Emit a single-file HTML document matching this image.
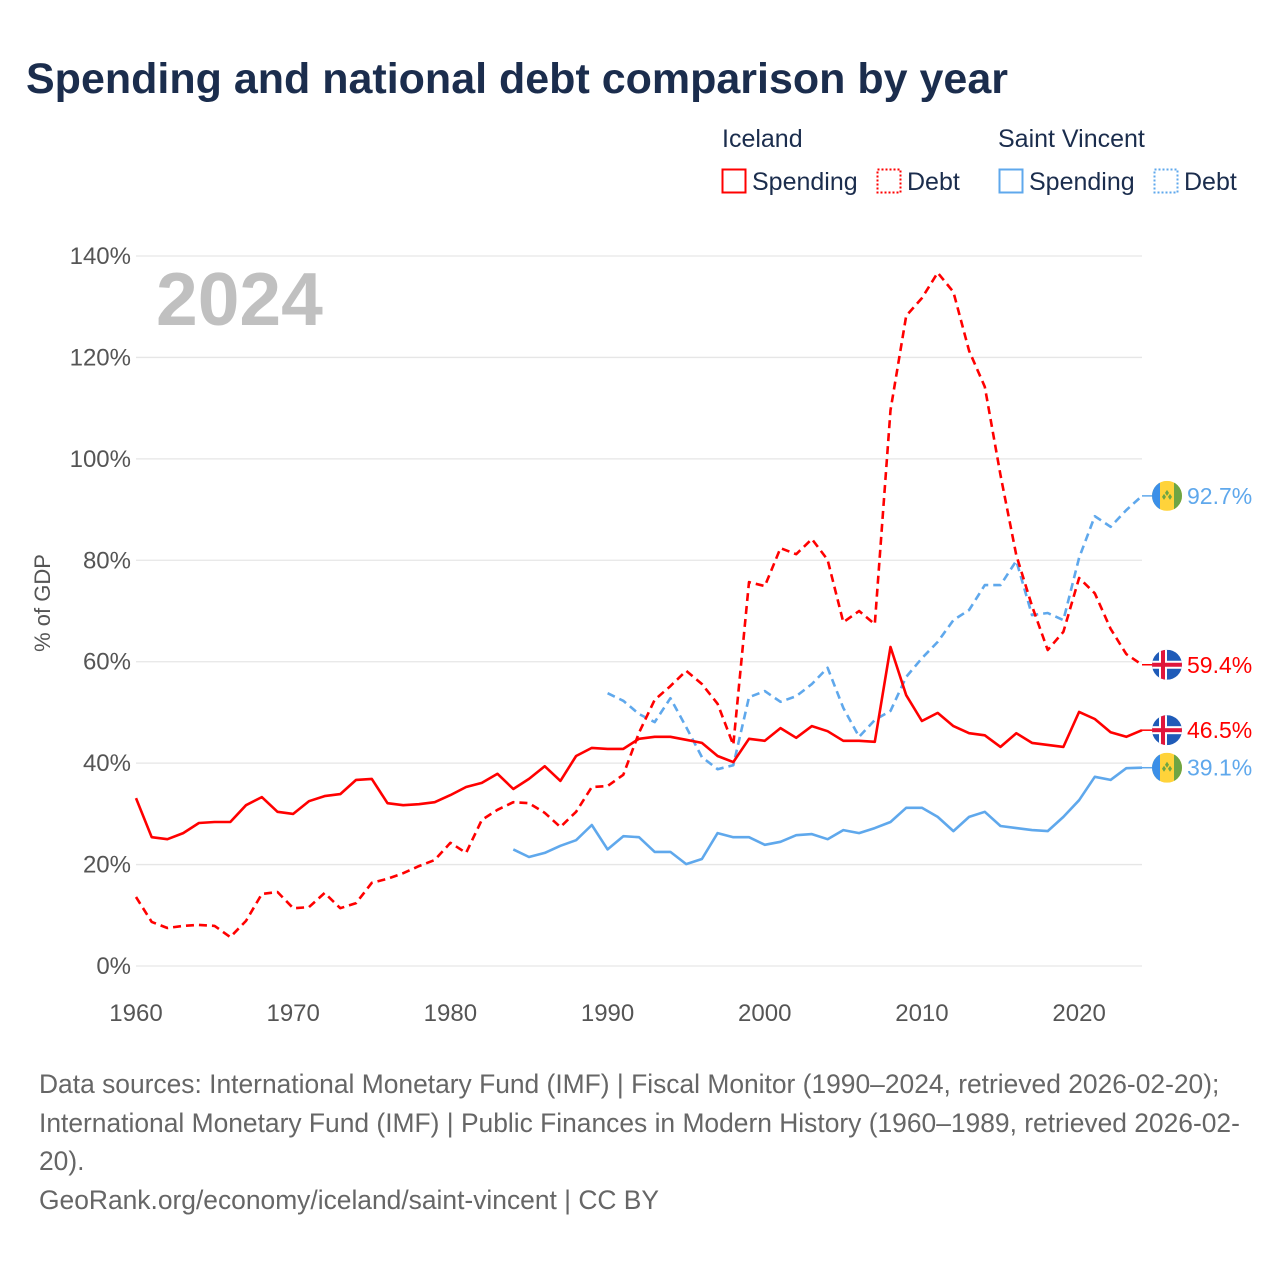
<!DOCTYPE html>
<html><head><meta charset="utf-8">
<style>
body{margin:0;background:#fff;font-family:"Liberation Sans",sans-serif;}
svg text{font-family:"Liberation Sans",sans-serif;}
</style></head>
<body>
<svg id="chart" width="1280" height="1280" viewBox="0 0 1280 1280" xmlns="http://www.w3.org/2000/svg">
<rect width="1280" height="1280" fill="#fff"/>
<text x="26" y="93" font-size="43" font-weight="bold" fill="#1b2d4d">Spending and national debt comparison by year</text>
<g font-size="25" fill="#1b2d4d">
<text x="722" y="147">Iceland</text>
<text x="998" y="147">Saint Vincent</text>
<g><rect x="722.5" y="169.5" width="23" height="23" fill="none" stroke="#ff0000" stroke-width="2"/><text x="752" y="190">Spending</text></g>
<g><rect x="877.5" y="169.5" width="23" height="23" fill="none" stroke="#ff0000" stroke-width="2" stroke-dasharray="2,2"/><text x="907" y="190">Debt</text></g>
<g><rect x="999.5" y="169.5" width="23" height="23" fill="none" stroke="#5fa8ec" stroke-width="2"/><text x="1029" y="190">Spending</text></g>
<g><rect x="1154.5" y="169.5" width="23" height="23" fill="none" stroke="#5fa8ec" stroke-width="2" stroke-dasharray="2,2"/><text x="1184" y="190">Debt</text></g>
</g>
<text x="156" y="325" font-size="75" font-weight="bold" fill="#c0c0c0">2024</text>
<text transform="translate(50,603) rotate(-90)" text-anchor="middle" font-size="22" fill="#555">% of GDP</text>
<g id="grid"></g><g id="yticks"></g><g id="xticks"></g><g id="lines"></g><g id="ends"></g>
<g font-size="26.4" fill="#666">
<text x="39" y="1093">Data sources: International Monetary Fund (IMF) | Fiscal Monitor (1990–2024, retrieved 2026-02-20);</text>
<text x="39" y="1132">International Monetary Fund (IMF) | Public Finances in Modern History (1960–1989, retrieved 2026-02-</text>
<text x="39" y="1170">20).</text>
<text x="39" y="1209">GeoRank.org/economy/iceland/saint-vincent | CC BY</text>
</g>
</svg>
<script>
const yTicks=[0,20,40,60,80,100,120,140];
const xTicks=[1960,1970,1980,1990,2000,2010,2020];
const iceYears0=1960;
const iceSpending=[33.1,25.4,25,26.2,28.2,28.4,28.4,31.7,33.3,30.4,30,32.5,33.5,33.9,36.7,36.9,32.1,31.7,31.9,32.3,33.7,35.3,36.1,37.9,34.9,36.9,39.4,36.5,41.4,43,42.8,42.8,44.8,45.2,45.2,44.6,44,41.4,40.2,44.8,44.4,46.9,45,47.3,46.3,44.4,44.4,44.2,62.9,53.4,48.3,49.9,47.3,45.9,45.5,43.2,45.9,44,43.6,43.2,50.1,48.7,46.1,45.2,46.5];
const iceDebt=[13.6,8.7,7.5,7.9,8.1,7.9,5.7,8.9,14.2,14.6,11.4,11.6,14.4,11.4,12.4,16.4,17.2,18.3,19.7,20.9,24.3,22.3,28.8,30.8,32.3,32.1,30.2,27.4,30.4,35.3,35.5,37.7,46,52.5,55.2,58.2,55.6,51.7,43.6,75.7,74.9,82.4,81.2,84.2,80.1,67.8,70,67.4,109.6,128.2,131.7,136.7,132.9,121.3,114.2,96.8,81,71,62.3,65.9,76.5,73.5,66.5,61.5,59.4];
const svcSpendStart=1984;
const svcSpending=[23,21.5,22.3,23.7,24.8,27.8,23,25.6,25.4,22.5,22.5,20.1,21.1,26.2,25.4,25.4,23.9,24.5,25.8,26,25,26.8,26.2,27.2,28.4,31.2,31.2,29.4,26.6,29.4,30.4,27.6,27.2,26.8,26.6,29.4,32.7,37.3,36.7,39,39.1];
const svcDebtStart=1990;
const svcDebt=[53.8,52.3,49.7,48.1,52.8,47.1,41.2,38.8,39.6,53,54.2,52.1,53.2,55.6,58.8,50.9,45.2,48.5,50.3,57,60.7,63.9,68.2,70.2,75.1,75.1,79.9,69.2,69.6,68.2,80.5,88.7,86.6,89.9,92.7];

const NS='http://www.w3.org/2000/svg';
const X0=136,X1=1142,Y0=966,Y1=256;
const xs=y=>X0+(y-1960)*(X1-X0)/(2024-1960);
const ys=v=>Y0-v*(Y0-Y1)/140;
function mk(tag,attrs,parent){const e=document.createElementNS(NS,tag);for(const k in attrs)e.setAttribute(k,attrs[k]);document.getElementById(parent).appendChild(e);return e;}
yTicks.forEach(t=>{
  const l=mk('line',{x1:X0,x2:X1,y1:ys(t),y2:ys(t),stroke:'#e6e6e6','stroke-width':1.3},'grid');
  
  
  const tx=mk('text',{x:131,y:ys(t)+8,'text-anchor':'end','font-size':24,fill:'#555'},'yticks');
  tx.textContent=t+'%';
  
  
});
xTicks.forEach(t=>{
  const tx=mk('text',{x:xs(t),y:1021,'text-anchor':'middle','font-size':24,fill:'#555'},'xticks');
  tx.textContent=t;
  
  
});
function series(vals,start,color,dash,name){
  const pts=vals.map((v,i)=>xs(start+i).toFixed(1)+','+ys(v).toFixed(1)).join(' ');
  const p=mk('polyline',{points:pts,fill:'none',stroke:color,'stroke-width':2.6,'stroke-linejoin':'round'},'lines');
  if(dash)p.setAttribute('stroke-dasharray','8,5');
  
  
}
series(svcSpending,svcSpendStart,'#5fa8ec',false,'line-saint-vincent-spending');
series(svcDebt,svcDebtStart,'#5fa8ec',true,'line-saint-vincent-debt');
series(iceSpending,iceYears0,'#ff0000',false,'line-iceland-spending');
series(iceDebt,iceYears0,'#ff0000',true,'line-iceland-debt');

function endLabel(v,color,flag,name){
  const cx=1167,cy=ys(v);
  mk('line',{x1:X1,x2:cx-14,y1:cy,y2:cy,stroke:color,'stroke-width':1.5},'ends');
  const g=mk('g',{},'ends');
  
  
  const id='c'+name;
  const cp=document.createElementNS(NS,'clipPath');cp.setAttribute('id',id);
  const cc=document.createElementNS(NS,'circle');cc.setAttribute('cx',cx);cc.setAttribute('cy',cy);cc.setAttribute('r',15);cp.appendChild(cc);g.appendChild(cp);
  const inner=document.createElementNS(NS,'g');inner.setAttribute('clip-path','url(#'+id+')');g.appendChild(inner);
  const add=(t,a)=>{const e=document.createElementNS(NS,t);for(const k in a)e.setAttribute(k,a[k]);inner.appendChild(e);};
  if(flag==='is'){
    add('rect',{x:cx-15,y:cy-15,width:30,height:30,fill:'#1f5bb8'});
    add('rect',{x:cx-15,y:cy-4,width:30,height:8,fill:'#fff'});
    add('rect',{x:cx-8,y:cy-15,width:8,height:30,fill:'#fff'});
    add('rect',{x:cx-15,y:cy-2,width:30,height:4,fill:'#e0163c'});
    add('rect',{x:cx-6,y:cy-15,width:4,height:30,fill:'#e0163c'});
  }else{
    add('rect',{x:cx-15,y:cy-15,width:30,height:30,fill:'#ffd33a'});
    add('rect',{x:cx-15,y:cy-15,width:8,height:30,fill:'#3b8fe8'});
    add('rect',{x:cx+7,y:cy-15,width:8,height:30,fill:'#6da544'});
    add('polygon',{points:`${cx-3},${cy-2} ${cx-1},${cy+1} ${cx-3},${cy+4} ${cx-5},${cy+1}`,fill:'#6da544'});
    add('polygon',{points:`${cx+3},${cy-2} ${cx+5},${cy+1} ${cx+3},${cy+4} ${cx+1},${cy+1}`,fill:'#6da544'});
    add('polygon',{points:`${cx},${cy-6} ${cx+2},${cy-3} ${cx},${cy} ${cx-2},${cy-3}`,fill:'#6da544'});
  }
  const t=mk('text',{x:1187,y:cy+8,'font-size':23,fill:color},'ends');
  t.textContent=v.toFixed(1)+'%';
  
  
}
endLabel(svcDebt[svcDebt.length-1],'#5fa8ec','vc','saint-vincent-debt');
endLabel(iceDebt[iceDebt.length-1],'#ff0000','is','iceland-debt');
endLabel(iceSpending[iceSpending.length-1],'#ff0000','is','iceland-spending');
endLabel(svcSpending[svcSpending.length-1],'#5fa8ec','vc','saint-vincent-spending');
</script>
</body></html>
